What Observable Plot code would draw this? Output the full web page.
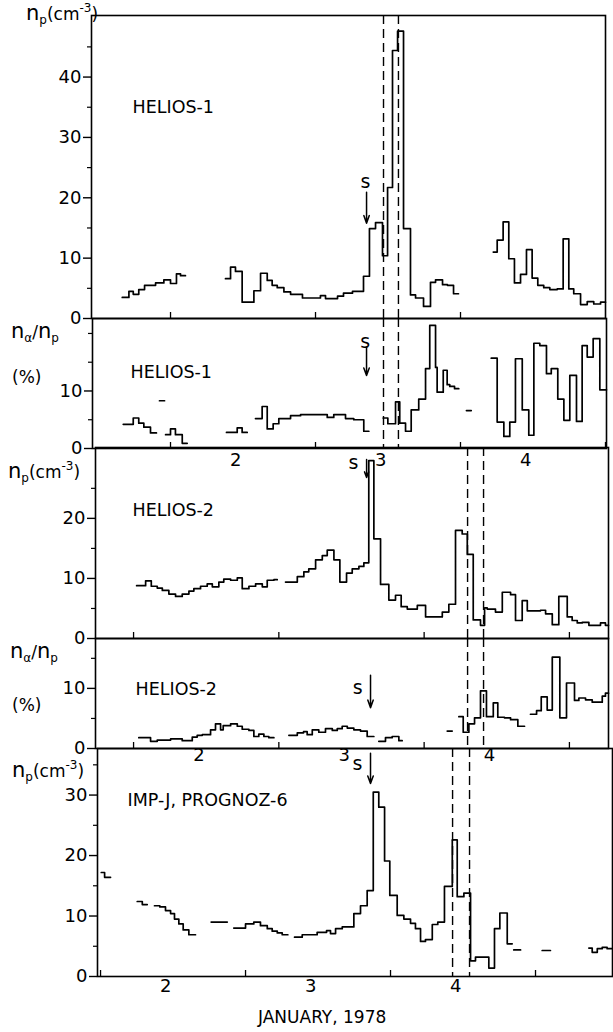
<!DOCTYPE html>
<html><head><meta charset="utf-8">
<script src="https://cdn.jsdelivr.net/npm/d3@7"></script>
<script src="https://cdn.jsdelivr.net/npm/@observablehq/plot@0.6"></script>
<style>
body{margin:0;background:#fff;font-family:"DejaVu Sans",sans-serif;color:#000;}
#wrap{position:relative;width:613px;height:1032px;overflow:hidden;background:#fff;}
#wrap svg{position:absolute;left:0;background:transparent !important;overflow:visible;}
.lab{position:absolute;font-size:17px;line-height:1;white-space:nowrap;color:#000;}
.big{font-size:21px;}
.sb{font-size:12px;position:relative;top:4px;}
.sp{font-size:12px;position:relative;top:-8px;}
</style></head><body>
<div id="wrap">
  <div class="lab" style="left:26px;top:3px"><span class="big">n</span><span class="sb">p</span>(cm<span class="sp">-3</span>)</div>
  <div class="lab" style="left:11px;top:321px"><span class="big">n</span><span class="sb">α</span>/<span class="big">n</span><span class="sb">p</span></div>
  <div class="lab" style="left:12px;top:369px">(%)</div>
  <div class="lab" style="left:8px;top:461px"><span class="big">n</span><span class="sb">p</span>(cm<span class="sp">-3</span>)</div>
  <div class="lab" style="left:10px;top:641px"><span class="big">n</span><span class="sb">α</span>/<span class="big">n</span><span class="sb">p</span></div>
  <div class="lab" style="left:12px;top:697px">(%)</div>
  <div class="lab" style="left:12px;top:760px"><span class="big">n</span><span class="sb">p</span>(cm<span class="sp">-3</span>)</div>
  <div class="lab" style="left:258px;top:1009px">JANUARY, 1978</div>
</div>
<script>
// ---------- DATA (time in days of January 1978, UT; values as read) ----------
// HELIOS-1 proton density (cm^-3): step edges (times) and step values per segment
const h1NpT = [
  [1.667,1.713,1.743,1.781,1.821,1.897,1.954,2.0,2.041,2.069,2.103],
  [2.379,2.414,2.448,2.494,2.575,2.621,2.667,2.701,2.736,2.782,2.828,2.910,3.034,3.069,3.152,3.193,3.255,3.331,3.372,3.414,3.462,3.497,3.531,3.566,3.607,3.655,3.690,3.745,3.793,3.828,3.876,3.910,3.952,3.986],
  [4.226,4.253,4.294,4.333,4.372,4.414,4.455,4.494,4.533,4.574,4.616,4.667,4.708,4.747,4.781,4.828,4.874,4.919,4.966,5.0]
];
const h1NpV = [
  [3.5,4.5,4.0,4.8,5.5,5.9,6.4,5.8,7.4,7.1],
  [6.6,8.5,7.8,2.7,4.6,7.5,6.3,5.5,5.1,4.4,4.0,3.4,3.8,3.3,3.7,4.2,4.5,7.0,14.9,15.9,10.4,21.7,44.4,47.6,14.9,3.9,3.4,2.0,6.0,6.4,5.6,5.5,4.1],
  [11.0,13.0,16.0,9.9,5.9,7.3,11.4,6.7,5.5,5.1,4.8,4.9,13.2,4.9,4.1,2.3,2.8,2.4,2.7]
];
// HELIOS-1 alpha/proton ratio (%)
const h1RatioT = [
  [1.674,1.743,1.781,1.816,1.862,1.903],
  [1.924,1.959],
  [1.966,2.0,2.034,2.081,2.115],
  [2.386,2.460,2.494,2.529],
  [2.586,2.632,2.667,2.708,2.747,2.828,2.897,3.081,3.126,3.207,3.264,3.333,3.368],
  [3.467,3.499,3.552,3.581,3.621,3.660,3.712,3.759,3.788,3.828,3.839,3.881,3.908,3.926,3.959,3.988],
  [4.041,4.074],
  [4.212,4.253,4.299,4.340,4.379,4.426,4.471,4.506,4.547,4.593,4.626,4.671,4.713,4.754,4.800,4.839,4.874,4.915,4.961,5.007]
];
const h1RatioV = [
  [4.2,5.3,4.4,3.7,2.7],
  [8.3],
  [2.4,3.4,2.4,0.9],
  [2.8,3.6,2.8],
  [5.2,7.3,3.4,4.3,5.2,5.7,5.9,5.4,5.9,5.2,5.0,3.0],
  [5.3,4.3,8.1,4.4,3.0,6.7,8.6,13.9,21.4,14.1,9.8,13.6,11.1,10.8,10.4],
  [6.6],
  [15.7,4.6,2.1,4.6,15.6,6.7,2.3,18.3,17.9,13.0,13.9,8.6,4.9,12.7,4.7,17.9,15.9,19.1,10.2]
];
// HELIOS-2 proton density (cm^-3)
const h2NpT = [
  [2.021,2.083,2.122,2.163,2.198,2.243,2.289,2.335,2.381,2.415,2.461,2.507,2.542,2.587,2.621,2.668,2.714,2.748,2.794,2.840,2.886,2.920,2.966,2.989],
  [3.046,3.127,3.172,3.206,3.253,3.299,3.333,3.379,3.420,3.466,3.505,3.551,3.585,3.619,3.654,3.700,3.757,3.803,3.842,3.884,3.953,4.010,4.125,4.170,4.216,4.262,4.297,4.338,4.388,4.416,4.434,4.491,4.538,4.595,4.629,4.675,4.710,4.801,4.836,4.882,4.927,4.985,5.019,5.054,5.088,5.134,5.214,5.248,5.269]
];
const h2NpV = [
  [8.8,9.6,8.7,8.4,8.0,7.4,7.0,7.4,7.9,8.3,8.7,9.1,8.6,9.4,9.9,9.7,10.1,8.3,8.7,9.1,8.6,9.7,9.8],
  [9.4,10.3,11.1,11.6,13.1,13.8,14.7,13.1,9.4,10.9,11.6,12.0,12.6,29.6,16.6,9.0,6.4,7.2,5.3,4.9,5.5,3.6,4.4,5.7,18.0,17.4,14.0,3.1,2.2,5.1,4.9,4.4,7.7,7.3,3.0,6.3,4.6,4.7,4.1,2.3,7.0,3.6,3.0,2.6,2.7,2.2,2.6,2.2]
];
// HELIOS-2 alpha/proton ratio (%)
const h2RatioT = [
  [2.036,2.117,2.163,2.255,2.335,2.404,2.438,2.473,2.530,2.564,2.599,2.617,2.668,2.714,2.748,2.794,2.828,2.862,2.897,2.931,2.966],
  [3.069,3.127,3.170,3.195,3.230,3.275,3.321,3.368,3.402,3.436,3.471,3.516,3.562,3.608,3.654],
  [3.688,3.734,3.780,3.826,3.849],
  [4.159,4.193],
  [4.239,4.269,4.308,4.347,4.388,4.429,4.476,4.507,4.553,4.595,4.645,4.691],
  [4.732,4.774,4.806,4.847,4.882,4.934,4.980,5.035,5.065,5.111,5.157,5.226,5.248,5.269]
];
const h2RatioV = [
  [1.8,1.2,1.4,1.6,1.3,1.9,2.2,2.3,3.1,4.1,3.1,3.8,4.1,3.7,3.2,3.0,2.0,2.4,2.0,1.8],
  [2.2,2.6,2.8,2.3,3.1,2.7,3.3,3.0,3.3,3.7,3.4,3.1,2.9,2.0],
  [1.2,1.8,2.0,1.3],
  [2.9],
  [5.3,2.7,4.1,5.1,9.6,5.3,7.6,5.2,5.1,4.8,3.7],
  [5.7,6.3,8.6,6.4,15.2,5.1,10.9,8.0,8.4,8.1,7.7,8.7,9.2]
];
// IMP-J, PROGNOZ-6 proton density (cm^-3)
const impNpT = [
  [2.005,2.028,2.069],
  [2.253,2.288,2.322],
  [2.372,2.409,2.448,2.483,2.510,2.540,2.570,2.609,2.655],
  [2.763,2.874],
  [2.919,3.0,3.057,3.103,3.150,3.184,3.219,3.253,3.292],
  [3.338,3.391,3.494,3.559,3.586,3.621,3.667,3.747,3.793,3.839,3.881,3.919,3.959,3.995,4.046,4.092,4.138,4.172,4.207,4.241,4.288,4.326,4.372,4.426,4.460,4.506,4.552,4.586,4.678,4.717,4.754,4.805,4.839],
  [4.850,4.897],
  [5.046,5.103],
  [5.368,5.391,5.426,5.460,5.494,5.529]
];
const impNpV = [
  [17.2,16.4],
  [12.4,11.9],
  [11.7,11.5,10.9,10.4,9.5,8.7,7.7,6.9],
  [9.0],
  [8.0,8.7,9.0,8.4,7.9,7.5,7.2,6.9],
  [6.5,6.9,7.3,7.6,7.1,7.9,8.2,10.4,11.7,14.2,30.5,28.0,19.1,13.4,10.1,9.5,8.8,7.9,5.8,6.1,8.6,9.0,14.9,22.6,13.2,13.8,2.6,3.2,1.4,7.9,10.5,5.4],
  [4.4],
  [4.3],
  [4.7,4.0,4.6,4.8,4.6]
];
// discontinuity times (dashed lines)
const h1Dashed = [3.469, 3.572];
const h2Dashed = [4.299, 4.409];
const impDashed = [4.428, 4.545];
// shock arrival "s": time, arrow top/bottom value, label time/value
const shocks = [
  {t: 3.352, y1: 20.9, y2: 15.8, tx: 3.345, ty: 22.6},
  {t: 3.352, y1: 17.6, y2: 12.7, tx: 3.342, ty: 18.6},
  {t: 3.604, y1: 29.8, y2: 26.8, tx: 3.514, ty: 29.3},
  {t: 3.631, y1: 12.2, y2: 6.8, tx: 3.542, ty: 10.0},
  {t: 3.862, y1: 36.9, y2: 31.9, tx: 3.772, ty: 35.2}
];
const dayNums = [2, 3, 4, 5];
const dayLabels = [2, 3, 4];
const npTicks40 = [0, 10, 20, 30, 40], npMinor40 = [5, 15, 25, 35, 45];
const ratioTicks = [0, 10], ratioMinor = [5, 15, 20];
const np2Ticks = [0, 10, 20], np2Minor = [5, 15, 25];
const r2Ticks = [0, 10], r2Minor = [5, 15];
const impTicks = [0, 10, 20, 30], impMinor = [5, 15, 25, 35];

// ---------- DRAWING ----------
function rows(T, V) {
  const out = [];
  T.forEach((ts, s) => {
    const vs = V[s];
    vs.forEach((v, i) => out.push({t: ts[i], v, s}));
    out.push({t: ts[ts.length - 1], v: vs[vs.length - 1], s});
  });
  return out;
}

function panel(c) {
  const mt = 2, mb = c.mb ?? 2;
  const ph = c.box.bottom - c.box.top;
  const inDom = dayNums.filter(d => d > c.xd[0] + 0.01 && d < c.xd[1] - 0.002);
  const marks = [
    Plot.axisY({ticks: c.yt, tickSize: 8, tickPadding: 2, fontSize: 18, label: null, strokeWidth: 1.4}),
    Plot.axisY({ticks: c.ym, tickSize: 4, tickFormat: () => "", label: null, strokeWidth: 1.2}),
    Plot.axisX({ticks: [], label: null}),
    Plot.ruleX(inDom, {insetTop: ph - 6, strokeWidth: 1.3}),
    Plot.ruleX(c.dashed, {strokeDasharray: "9,5", strokeWidth: 1.4}),
    Plot.line(rows(c.T, c.V), {x: "t", y: "v", z: "s", curve: "step-after", strokeWidth: 1.7, stroke: "black"}),
    Plot.frame({strokeWidth: 1.6}),
    Plot.text([c.name], {frameAnchor: "top-left", dx: c.ndx, dy: c.ndy, textAnchor: "start", fontSize: 17.5}),
    Plot.arrow([c.shock], {x1: "t", x2: "t", y1: "y1", y2: "y2", headLength: 8, headAngle: 40, strokeWidth: 1.5}),
    Plot.text([c.shock], {x: "tx", y: "ty", text: () => "s", fontSize: 19})
  ];
  if (c.days) marks.push(Plot.text(c.days, {x: d => d + 0.45, frameAnchor: "bottom", dy: c.daysDy, text: d => String(d), fontSize: 18}));
  const svg = Plot.plot({
    width: 613,
    height: ph + mt + mb,
    marginLeft: c.box.left, marginRight: 613 - c.box.right, marginTop: mt, marginBottom: mb,
    x: {domain: c.xd},
    y: {domain: c.yd},
    style: {background: "transparent", overflow: "visible", fontFamily: "DejaVu Sans", color: "black"},
    marks
  });
  svg.style.top = (c.box.top - mt) + "px";
  document.getElementById("wrap").appendChild(svg);
}

panel({T: h1NpT, V: h1NpV, box: {left: 91, right: 605, top: 15, bottom: 318}, xd: [1.455, 5.0], yd: [0, 50.2],
  yt: npTicks40, ym: npMinor40, dashed: h1Dashed, name: "HELIOS-1", ndx: 41, ndy: 85, shock: shocks[0]});
panel({T: h1RatioT, V: h1RatioV, box: {left: 92, right: 606, top: 318, bottom: 448}, xd: [1.462, 5.007], yd: [0, 22.6],
  yt: ratioTicks, ym: ratioMinor, dashed: h1Dashed, name: "HELIOS-1", ndx: 38, ndy: 47, shock: shocks[1],
  days: dayLabels, daysDy: 17, mb: 28});
panel({T: h2NpT, V: h2NpV, box: {left: 95, right: 608, top: 447, bottom: 638}, xd: [1.738, 5.269], yd: [0, 31.8],
  yt: np2Ticks, ym: np2Minor, dashed: h2Dashed, name: "HELIOS-2", ndx: 37, ndy: 56, shock: shocks[2]});
panel({T: h2RatioT, V: h2RatioV, box: {left: 95, right: 608, top: 638, bottom: 748}, xd: [1.738, 5.269], yd: [0, 18.3],
  yt: r2Ticks, ym: r2Minor, dashed: h2Dashed, name: "HELIOS-2", ndx: 40, ndy: 44, shock: shocks[3],
  days: dayLabels, daysDy: 12, mb: 22});
panel({T: impNpT, V: impNpV, box: {left: 97, right: 612, top: 748, bottom: 976}, xd: [1.979, 5.531], yd: [0, 37.7],
  yt: impTicks, ym: impMinor, dashed: impDashed, name: "IMP-J, PROGNOZ-6", ndx: 30, ndy: 45, shock: shocks[4],
  days: dayLabels, daysDy: 15, mb: 30});
</script>
</body></html>
